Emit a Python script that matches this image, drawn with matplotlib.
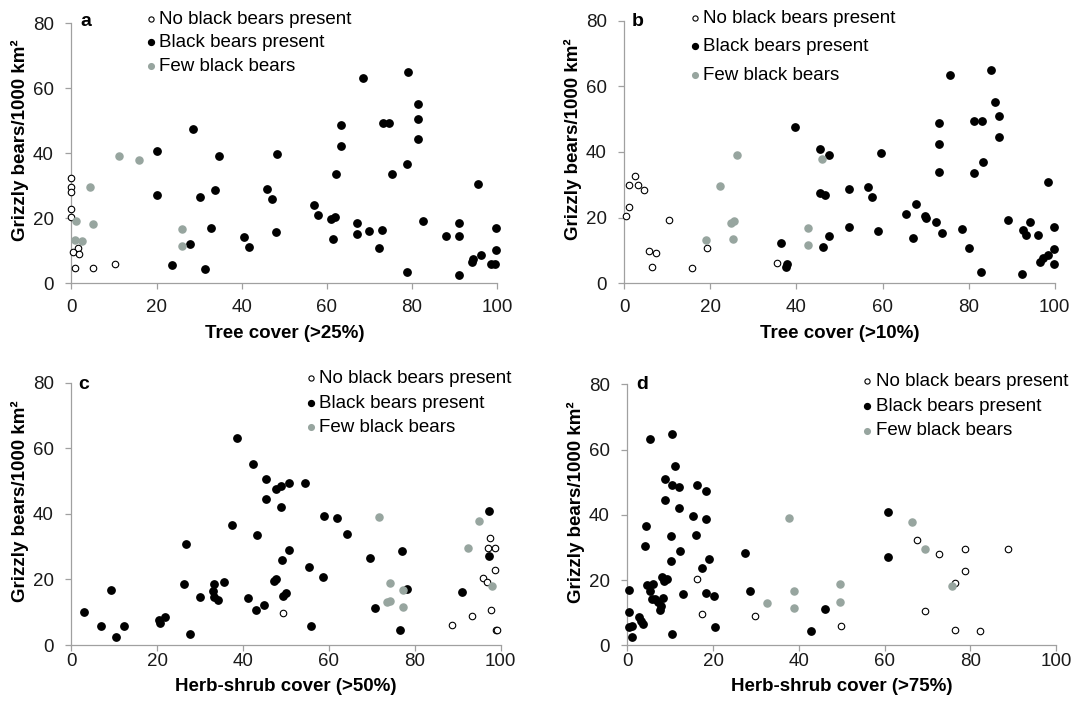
import matplotlib
matplotlib.use("Agg")
import matplotlib.pyplot as plt

plt.rcParams["font.family"] = ["Liberation Sans", "DejaVu Sans"]

GREY = "#97a59f"
SPINE = "#a0a0a0"

LABELS = ["No black bears present", "Black bears present", "Few black bears"]
Y_LABEL = "Grizzly bears/1000 km²"
X_TICKS = [0, 20, 40, 60, 80, 100]
Y_TICKS = [0, 20, 40, 60, 80]

# panel a: tree cover (>25%)
a_none_x = [0, 0, 0, 0, 0, 1.5, 0.5, 1.7, 0.9, 5, 10.3]
a_none_y = [32.5, 29.7, 28, 22.9, 20.5, 10.8, 9.7, 9, 4.8, 4.7, 5.9]
a_black_x = [28.6, 20, 34.7, 48.3, 20, 30.3, 33.7, 45.9, 47.2, 32.9, 27.9, 40.5,
             41.6, 48.1, 23.7, 31.5, 68.5, 79.0, 81.5, 81.5, 81.5, 73.2, 74.7,
             63.3, 63.3, 62.2, 75.4, 78.9, 95.5, 57.0, 57.9, 60.9, 61.9, 61.5,
             67.1, 67.1, 69.9, 72.9, 72.3, 82.6, 78.8, 91.1, 91.1, 88.0, 91.1,
             99.6, 99.6, 94.0, 94.3, 96.2, 98.5, 99.5]
a_black_y = [47.5, 40.8, 39, 39.7, 27.2, 26.6, 28.6, 29, 25.9, 16.9, 12.1, 14.3,
             11.2, 15.9, 5.7, 4.5, 63.2, 64.8, 55.1, 50.6, 44.5, 49.3, 49.3,
             48.5, 42.1, 33.7, 33.5, 36.7, 30.6, 24, 20.9, 19.7, 20.3, 13.6,
             18.6, 15.1, 16.1, 16.5, 10.8, 19.2, 3.4, 18.6, 14.6, 14.5, 2.6,
             16.9, 10.2, 6.6, 7.5, 8.6, 5.9, 5.9]
a_few_x = [11.3, 15.9, 4.5, 1, 5.1, 0.9, 2.5, 25.9, 25.9]
a_few_y = [39, 37.8, 29.5, 19, 18.1, 13.3, 13, 16.7, 11.6]

# panel b: tree cover (>10%)
b_none_x = [0.3, 1.2, 1.2, 2.4, 3.1, 4.5, 5.7, 7.3, 6.4, 10.3, 15.8, 19.2, 35.5]
b_none_y = [20.6, 23.1, 29.8, 32.7, 30, 28.3, 9.8, 9.1, 4.9, 19.4, 4.8, 10.7, 6.1]
b_black_x = [39.6, 45.5, 47.6, 45.4, 46.6, 36.4, 37.6, 37.9, 46.2, 47.6, 59.7,
             52.3, 56.7, 57.6, 52.3, 59.0, 75.7, 85.3, 86.1, 87.0, 87.0, 81.2,
             83.0, 73.1, 73.1, 73.1, 83.3, 81.2, 98.5, 67.8, 65.5, 69.8, 70.1,
             72.4, 73.8, 67.1, 78.4, 80.1, 82.8, 89.1, 94.2, 92.7, 93.4, 96.1,
             92.5, 99.9, 99.9, 99.9, 96.6, 97.4, 98.5]
b_black_y = [47.6, 41, 39.1, 27.4, 26.8, 12.4, 5.1, 5.8, 11.2, 14.5, 39.8,
             28.7, 29.2, 26.2, 17.1, 16, 63.4, 65, 55.3, 50.9, 44.7, 49.5,
             49.5, 48.7, 42.3, 33.9, 36.9, 33.7, 30.9, 24.2, 21.2, 20.5, 19.9,
             18.7, 15.3, 13.8, 16.6, 10.9, 3.5, 19.3, 18.8, 16.3, 14.6, 14.7,
             2.8, 17, 10.3, 6, 6.6, 7.7, 8.6]
b_few_x = [26.2, 22.2, 18.9, 24.9, 25.4, 25.3, 42.7, 42.7, 45.9]
b_few_y = [39.1, 29.7, 13.1, 18.3, 19, 13.4, 16.8, 11.7, 38]

# panel c: herb-shrub cover (>50%)
c_none_x = [49.3, 97.6, 97.0, 98.7, 98.6, 95.9, 96.9, 97.8, 93.2, 88.7, 98.9, 99.2]
c_none_y = [9.7, 32.5, 29.7, 29.7, 23, 20.3, 19.3, 10.7, 9, 6, 4.7, 4.7]
c_black_x = [3.0, 6.8, 9.2, 10.4, 12.3, 20.4, 20.7, 21.8, 27.6, 26.7, 26.3, 30.0,
             33.3, 33.0, 33.3, 34.2, 35.6, 37.5, 38.7, 42.2, 45.3, 45.3, 47.7,
             48.8, 50.8, 48.8, 43.2, 50.6, 49.0, 47.3, 47.6, 49.2, 50.1, 41.2,
             42.9, 44.8, 54.5, 58.9, 61.8, 64.3, 55.4, 58.5, 69.6, 77.1, 70.7,
             78.2, 55.9, 76.6, 91.0, 97.3, 97.3]
c_black_y = [10.2, 5.9, 16.9, 2.6, 5.9, 7.6, 6.6, 8.6, 3.5, 30.7, 18.6, 14.5,
             18.7, 16.6, 14.5, 13.6, 19.1, 36.7, 63.1, 55.1, 50.7, 44.5, 47.5,
             48.5, 49.4, 42.2, 33.5, 29, 25.9, 19.6, 20.1, 15, 15.8, 14.3,
             10.8, 12.1, 49.3, 39.5, 38.9, 33.8, 23.9, 20.9, 26.6, 28.6, 11.2,
             17, 5.8, 4.6, 16.1, 40.9, 27.1]
c_few_x = [71.6, 95.0, 92.5, 74.2, 77.2, 73.5, 74.2, 77.3, 98.0]
c_few_y = [39, 37.8, 29.5, 18.8, 16.7, 13, 13.4, 11.6, 18.1]

# panel d: herb-shrub cover (>75%)
d_none_x = [16.3, 17.4, 29.8, 67.5, 72.6, 78.7, 88.9, 78.7, 76.4, 69.5, 49.9, 76.5, 82.3]
d_none_y = [20.3, 9.6, 8.9, 32.4, 28.1, 29.5, 29.6, 22.9, 19.2, 10.5, 5.9, 4.7, 4.5]
d_black_x = [0.4, 0.4, 0.4, 1.1, 1.2, 2.7, 3.2, 3.7, 4.2, 4.4, 4.5, 5.4, 5.3,
             5.8, 6.5, 6.1, 7.2, 7.6, 8.3, 7.9, 8.1, 8.6, 9.3, 8.8, 8.7, 10.4,
             11.1, 10.5, 12.0, 12.0, 10.1, 12.4, 10.3, 13.0, 10.5, 15.4, 16.2,
             18.4, 16.1, 18.3, 19.0, 17.4, 18.4, 20.3, 20.4, 27.5, 28.5, 46.0,
             42.8, 60.8, 60.8]
d_black_y = [16.9, 10.1, 5.7, 6.0, 2.6, 8.6, 7.5, 6.4, 30.5, 36.7, 18.5, 63.1,
             16.7, 14.3, 14.1, 18.7, 13.4, 10.7, 14.4, 12.0, 20.8, 19.7, 20.2,
             50.9, 44.4, 64.7, 55, 49.2, 48.4, 42.1, 33.5, 28.9, 25.9, 15.7,
             3.4, 39.5, 49.2, 47.4, 33.7, 38.8, 26.5, 23.8, 16, 15, 5.6, 28.4,
             16.8, 11, 4.5, 40.8, 27]
d_few_x = [37.7, 38.9, 38.9, 32.6, 66.3, 69.4, 49.7, 49.7, 75.7]
d_few_y = [38.9, 16.6, 11.5, 12.9, 37.8, 29.4, 18.7, 13.2, 18.1]


def draw_panel(ax, letter, xlabel, none_xy, black_xy, few_xy, legend_pos,
               legend_spacing, letter_pos, xtick_pad, xlabel_pad):
    h_none = ax.scatter(*none_xy, s=22, facecolors="white", edgecolors="black",
                        linewidths=0.8, clip_on=False, zorder=3)
    h_black = ax.scatter(*black_xy, s=28, color="black", clip_on=False, zorder=3)
    h_few = ax.scatter(*few_xy, s=26, color=GREY, clip_on=False, zorder=3)

    ax.set_xlim(0, 100)
    ax.set_ylim(0, 80)
    ax.set_xticks(X_TICKS)
    ax.set_yticks(Y_TICKS)
    for side in ("top", "right"):
        ax.spines[side].set_visible(False)
    for side in ("left", "bottom"):
        ax.spines[side].set_color(SPINE)
        ax.spines[side].set_linewidth(0.9)
    ax.tick_params(axis="both", colors=SPINE, labelcolor="#1a1a1a",
                   labelsize=13.5, length=4, width=0.9)
    ax.tick_params(axis="y", pad=8.5)
    ax.tick_params(axis="x", pad=xtick_pad)

    ax.set_xlabel(xlabel, fontsize=13.5, fontweight="bold", labelpad=xlabel_pad)
    ax.set_ylabel(Y_LABEL, fontsize=13.5, fontweight="bold")
    ax.yaxis.set_label_coords(-0.099, 0.55)

    ax.text(letter_pos[0], letter_pos[1], letter, transform=ax.transAxes,
            fontsize=14, fontweight="bold", ha="left", va="center")

    ax.legend([h_none, h_black, h_few], LABELS, loc="upper left",
              bbox_to_anchor=legend_pos, frameon=False, fontsize=13.5,
              handlelength=0.6, handletextpad=0.15, borderpad=0,
              borderaxespad=0, labelspacing=legend_spacing, markerscale=0.8)


fig = plt.figure(figsize=(10.74, 7.10), dpi=100)
ax_a = fig.add_axes([0.0664, 0.601, 0.3966, 0.3666])
ax_b = fig.add_axes([0.5813, 0.601, 0.4007, 0.3699])
ax_c = fig.add_axes([0.0664, 0.0915, 0.3998, 0.3694])
ax_d = fig.add_axes([0.5841, 0.0911, 0.3992, 0.3676])

draw_panel(ax_a, "a", "Tree cover (>25%)", (a_none_x, a_none_y),
           (a_black_x, a_black_y), (a_few_x, a_few_y),
           (0.174, 1.048), 0.34, (0.022, 1.006), 7, 7)
draw_panel(ax_b, "b", "Tree cover (>10%)", (b_none_x, b_none_y),
           (b_black_x, b_black_y), (b_few_x, b_few_y),
           (0.151, 1.042), 0.6, (0.018, 0.997), 7, 7)
draw_panel(ax_c, "c", "Herb-shrub cover (>50%)", (c_none_x, c_none_y),
           (c_black_x, c_black_y), (c_few_x, c_few_y),
           (0.545, 1.049), 0.4, (0.017, 0.995), 1.5, 6)
draw_panel(ax_d, "d", "Herb-shrub cover (>75%)", (d_none_x, d_none_y),
           (d_black_x, d_black_y), (d_few_x, d_few_y),
           (0.547, 1.043), 0.4, (0.021, 1.0), 1.5, 6)

fig.savefig("out.png", dpi=100)
